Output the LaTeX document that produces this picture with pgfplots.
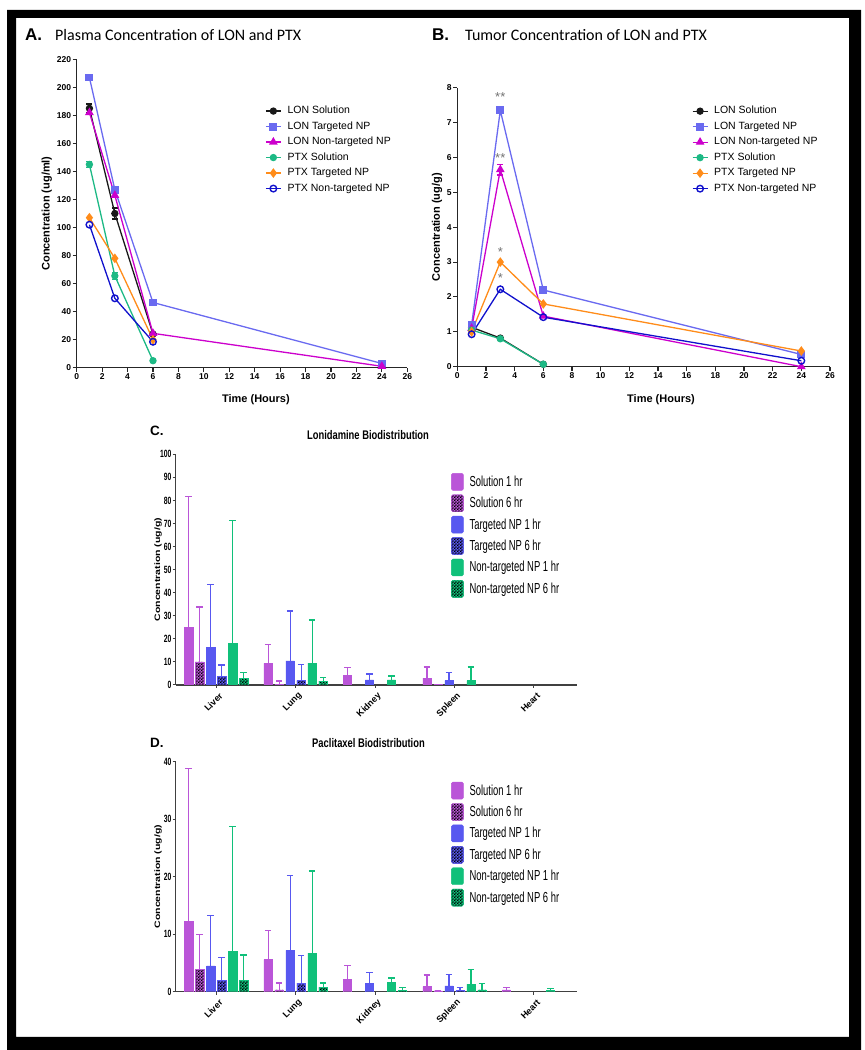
\documentclass[border=0pt]{standalone}
\usepackage{fontspec}
\setmainfont{Liberation Sans}
\newfontfamily\ttl{Carlito}
\newfontfamily\nf[FakeStretch=0.65]{Liberation Sans}
\newfontfamily\nft[FakeStretch=0.75]{Liberation Sans}
\usepackage{pgfplots}
\pgfplotsset{compat=1.18}
\usetikzlibrary{patterns}

\pgfdeclarepatternformonly{finechecker}{\pgfpointorigin}{\pgfqpoint{3.2pt}{3.2pt}}{\pgfqpoint{3.2pt}{3.2pt}}{%
  \pgfpathrectangle{\pgfpointorigin}{\pgfqpoint{1.6pt}{1.6pt}}%
  \pgfpathrectangle{\pgfqpoint{1.6pt}{1.6pt}}{\pgfqpoint{1.6pt}{1.6pt}}%
  \pgfusepath{fill}}

\definecolor{clt}{HTML}{6A6AF0}
\definecolor{clnt}{HTML}{CC00CC}
\definecolor{cps}{HTML}{1DB985}
\definecolor{cpt}{HTML}{FF8C1A}
\definecolor{cpnt}{HTML}{1010CC}
\definecolor{bsol}{HTML}{BA55D8}
\definecolor{btar}{HTML}{5858F0}
\definecolor{bnon}{HTML}{10C07A}

\pgfplotsset{
  linechart/.style={
    scale only axis, clip=false,
    axis x line*=bottom, axis y line*=left,
    axis line style={-, line width=1.3pt, black!85},
    tick align=outside, major tick length=4pt,
    tick style={line width=1.1pt, black!85},
    /pgf/number format/assume math mode=true,
    ticklabel style={font=\bfseries\fontsize{8.5}{9}\selectfont, inner sep=1.5pt},
    label style={font=\bfseries\fontsize{11}{12}\selectfont},
    legend style={draw=none, fill=none, anchor=north west, inner sep=0pt,
      font=\fontsize{10.5}{12}\selectfont, row sep=3pt,
      nodes={inner sep=1pt, text height=8pt, text depth=2.5pt},
      /tikz/every odd column/.append style={column sep=5pt}},
    legend cell align=left,
    legend image code/.code={\draw[mark repeat=2, mark phase=2, ##1] plot coordinates {(0pt,0pt) (7.5pt,0pt) (15pt,0pt)};},
    every axis plot/.append style={line width=1.3pt, mark options={solid}},
  },
  sLONsol/.style={color=black!90, mark=*, mark size=3pt},
  sLONt/.style={color=clt, mark=square*, mark size=3.3pt},
  sLONnt/.style={color=clnt, mark=triangle*, mark size=3.8pt},
  sPTXsol/.style={color=cps, mark=*, mark size=3pt},
  sPTXt/.style={color=cpt, mark=diamond*, mark size=3.8pt},
  sPTXnt/.style={color=cpnt, mark=o, mark size=3.3pt, mark options={fill=white, line width=1.4pt}},
  errstyle/.style={error bars/.cd, y dir=both, y explicit, error bar style={line width=1.3pt}, error mark options={rotate=90, mark size=3pt, line width=1.3pt}},
  barchart/.style={
    scale only axis,
    axis x line*=bottom, axis y line*=left,
    axis line style={-, line width=1.3pt, black!75},
    tick align=outside, major tick length=3pt,
    tick style={line width=1pt, black!75},
    ybar=2.7pt, bar width=8.3pt,
    xmin=-0.51, xmax=4.54, xtick={0,...,4},
    xticklabels={Liver,Lung,Kidney,Spleen,Heart},
    ymin=0,
    /pgf/number format/assume math mode=true,
    yticklabel style={font=\nf\bfseries\fontsize{10.5}{11}\selectfont, inner sep=1pt},
    xticklabel style={font=\bfseries\fontsize{9}{9}\selectfont, rotate=45, anchor=east, inner sep=1pt, yshift=-8pt, xshift=0pt},
    ylabel style={font=\bfseries\fontsize{10.5}{11}\selectfont},
    legend style={draw=none, fill=none, anchor=north west, inner sep=0pt,
      font=\nf\fontsize{14.5}{15}\selectfont, row sep=4pt,
      nodes={inner sep=1pt},
      /tikz/every odd column/.append style={column sep=5pt}},
    legend cell align=left,
    legend image code/.code={\draw[##1, rounded corners=1.5pt] (0pt,-8.5pt) rectangle (12pt,8.5pt);},
    every axis plot/.append style={error bars/y dir=plus, error bars/y explicit},
  },
  b1/.style={fill=#1, draw=#1,
    error bars/error bar style={line width=1.2pt, draw=#1},
    error bars/error mark options={rotate=90, mark size=3.3pt, line width=1.2pt, draw=#1}},
  b6/.style={fill=#1, draw=#1, postaction={pattern=finechecker, pattern color=black},
    error bars/error bar style={line width=1.2pt, draw=#1},
    error bars/error mark options={rotate=90, mark size=3.3pt, line width=1.2pt, draw=#1}},
}

\begin{document}
\begin{tikzpicture}
\path[use as bounding box] (0pt,0pt) rectangle (865pt,1050pt);
\fill[black, even odd rule] (7pt,0pt) rectangle (861pt,1040pt) (16pt,13pt) rectangle (849pt,1032pt);

% titles
\node[anchor=west, font=\bfseries\fontsize{17}{17}\selectfont, inner sep=0pt] at (25pt,1015pt) {A.};
\node[anchor=west, font=\ttl\fontsize{16}{16}\selectfont, inner sep=0pt] at (55pt,1015pt) {Plasma Concentration of LON and PTX};
\node[anchor=west, font=\bfseries\fontsize{17}{17}\selectfont, inner sep=0pt] at (432pt,1015pt) {B.};
\node[anchor=west, font=\ttl\fontsize{16}{16}\selectfont, inner sep=0pt] at (465pt,1015pt) {Tumor Concentration of LON and PTX};
\node[anchor=west, font=\bfseries\fontsize{13.5}{14}\selectfont, inner sep=0pt] at (150pt,619.3pt) {C.};
\node[font=\nft\bfseries\fontsize{12.5}{13}\selectfont, inner sep=0pt] at (368pt,615pt) {Lonidamine Biodistribution};
\node[anchor=west, font=\bfseries\fontsize{13.5}{14}\selectfont, inner sep=0pt] at (150pt,307.3pt) {D.};
\node[font=\nft\bfseries\fontsize{12.5}{13}\selectfont, inner sep=0pt] at (368.5pt,307.3pt) {Paclitaxel Biodistribution};

% ---------------- A ----------------
\begin{axis}[linechart, at={(76.7pt,682.3pt)}, anchor=south west,
  width=330.6pt, height=308.4pt,
  xmin=0, xmax=26, ymin=0, ymax=220,
  xtick={0,2,...,26}, ytick={0,20,...,220},
  xlabel={Time (Hours)}, ylabel={Concentration (ug/ml)},
  xlabel style={at={(axis description cs:0.542,-0.1047)}, anchor=center},
  ylabel style={at={(axis description cs:-0.0907,0.5)}, anchor=center},
  legend style={at={(axis description cs:0.5696,0.853)}}]
\addplot[sLONsol, errstyle] coordinates {(1,185) +- (0,3) (3,110) +- (0,4) (6,24) +- (0,0)};
\addlegendentry{LON Solution}
\addplot[sLONt] coordinates {(1,207) (3,127) (6,46.5) (24,3)};
\addlegendentry{LON Targeted NP}
\addplot[sLONnt] coordinates {(1,182) (3,123) (6,24.5) (24,1)};
\addlegendentry{LON Non-targeted NP}
\addplot[sPTXsol, errstyle] coordinates {(1,145) +- (0,2) (3,65.5) +- (0,2.5) (6,5) +- (0,0)};
\addlegendentry{PTX Solution}
\addplot[sPTXt] coordinates {(1,107) (3,78) (6,20)};
\addlegendentry{PTX Targeted NP}
\addplot[sPTXnt] coordinates {(1,102) (3,49.5) (6,18.5)};
\addlegendentry{PTX Non-targeted NP}
\end{axis}

% ---------------- B ----------------
\begin{axis}[linechart, at={(457.3pt,683.3pt)}, anchor=south west,
  width=372.7pt, height=279pt,
  xmin=0, xmax=26, ymin=0, ymax=8,
  xtick={0,2,...,26}, ytick={0,1,...,8},
  xlabel={Time (Hours)}, ylabel={Concentration (ug/g)},
  xlabel style={at={(axis description cs:0.5466,-0.119)}, anchor=center},
  ylabel style={at={(axis description cs:-0.0545,0.5)}, anchor=center},
  legend style={at={(axis description cs:0.629,0.939)}}]
\addplot[sLONsol] coordinates {(1,1.13) (3,0.82) (6,0.07)};
\addlegendentry{LON Solution}
\addplot[sLONt] coordinates {(1,1.2) (3,7.35) (6,2.2) (24,0.35)};
\addlegendentry{LON Targeted NP}
\addplot[sLONnt, errstyle] coordinates {(1,1.1) +- (0,0) (3,5.65) +- (0,0.15) (6,1.45) +- (0,0) (24,0) +- (0,0)};
\addlegendentry{LON Non-targeted NP}
\addplot[sPTXsol] coordinates {(1,1.05) (3,0.8) (6,0.07)};
\addlegendentry{PTX Solution}
\addplot[sPTXt] coordinates {(1,1.0) (3,3.0) (6,1.8) (24,0.45)};
\addlegendentry{PTX Targeted NP}
\addplot[sPTXnt] coordinates {(1,0.93) (3,2.22) (6,1.42) (24,0.17)};
\addlegendentry{PTX Non-targeted NP}
\node[font=\fontsize{13}{13}\selectfont, text=black!55] at (axis cs:3,7.72) {**};
\node[font=\fontsize{13}{13}\selectfont, text=black!55] at (axis cs:3,5.98) {**};
\node[font=\fontsize{13}{13}\selectfont, text=black!55] at (axis cs:3,3.3) {*};
\node[font=\fontsize{13}{13}\selectfont, text=black!55] at (axis cs:3,2.55) {*};
\end{axis}

% ---------------- C ----------------
\begin{axis}[barchart, at={(175.7pt,365pt)}, anchor=south west,
  width=401pt, height=230.7pt,
  ymax=100, ytick={0,10,...,100},
  ylabel={\scalebox{1}[0.75]{Concentration (ug/g)}},
  ylabel style={at={(axis description cs:-0.0441,0.5)}, anchor=center},
  legend style={at={(axis description cs:0.6865,0.919)}}]
\addplot[b1=bsol] coordinates {(0,25.1) +- (0,56.5) (1,9.4) +- (0,8.1) (2,4.3) +- (0,3.4) (3,3.0) +- (0,4.8)};
\addlegendentry{Solution 1 hr}
\addplot[b6=bsol] coordinates {(0,10.0) +- (0,23.8) (1,0.4) +- (0,1.3) (3,0.3) +- (0,0.05)};
\addlegendentry{Solution 6 hr}
\addplot[b1=btar] coordinates {(0,16.3) +- (0,27.1) (1,10.5) +- (0,21.6) (2,2.2) +- (0,2.6) (3,1.9) +- (0,3.4)};
\addlegendentry{Targeted NP 1 hr}
\addplot[b6=btar] coordinates {(0,3.6) +- (0,5.1) (1,2.0) +- (0,7.0)};
\addlegendentry{Targeted NP 6 hr}
\addplot[b1=bnon] coordinates {(0,18.1) +- (0,53.1) (1,9.5) +- (0,18.7) (2,2.2) +- (0,1.7) (3,1.9) +- (0,5.9)};
\addlegendentry{Non-targeted NP 1 hr}
\addplot[b6=bnon] coordinates {(0,2.9) +- (0,2.4) (1,1.7) +- (0,1.6)};
\addlegendentry{Non-targeted NP 6 hr}
\end{axis}

% ---------------- D ----------------
\begin{axis}[barchart, at={(175.7pt,58.3pt)}, anchor=south west,
  width=401pt, height=230pt,
  ymax=40, ytick={0,10,...,40},
  ylabel={\scalebox{1}[0.75]{Concentration (ug/g)}},
  ylabel style={at={(axis description cs:-0.0441,0.5)}, anchor=center},
  legend style={at={(axis description cs:0.6865,0.913)}}]
\addplot[b1=bsol] coordinates {(0,12.2) +- (0,26.6) (1,5.6) +- (0,5.1) (2,2.1) +- (0,2.4) (3,0.9) +- (0,2.0) (4,0.3) +- (0,0.4)};
\addlegendentry{Solution 1 hr}
\addplot[b6=bsol] coordinates {(0,3.9) +- (0,6.0) (1,0.3) +- (0,1.2) (3,0.15) +- (0,0.02)};
\addlegendentry{Solution 6 hr}
\addplot[b1=btar] coordinates {(0,4.5) +- (0,8.7) (1,7.2) +- (0,13.0) (2,1.5) +- (0,1.9) (3,1.0) +- (0,2.0)};
\addlegendentry{Targeted NP 1 hr}
\addplot[b6=btar] coordinates {(0,2.0) +- (0,3.9) (1,1.5) +- (0,4.8) (3,0.2) +- (0,0.5)};
\addlegendentry{Targeted NP 6 hr}
\addplot[b1=bnon] coordinates {(0,7.0) +- (0,21.7) (1,6.7) +- (0,14.3) (2,1.6) +- (0,0.8) (3,1.3) +- (0,2.6) (4,0.25) +- (0,0.25)};
\addlegendentry{Non-targeted NP 1 hr}
\addplot[b6=bnon] coordinates {(0,2.0) +- (0,4.4) (1,0.8) +- (0,0.7) (2,0.2) +- (0,0.5) (3,0.3) +- (0,1.1)};
\addlegendentry{Non-targeted NP 6 hr}
\end{axis}
\end{tikzpicture}
\end{document}
